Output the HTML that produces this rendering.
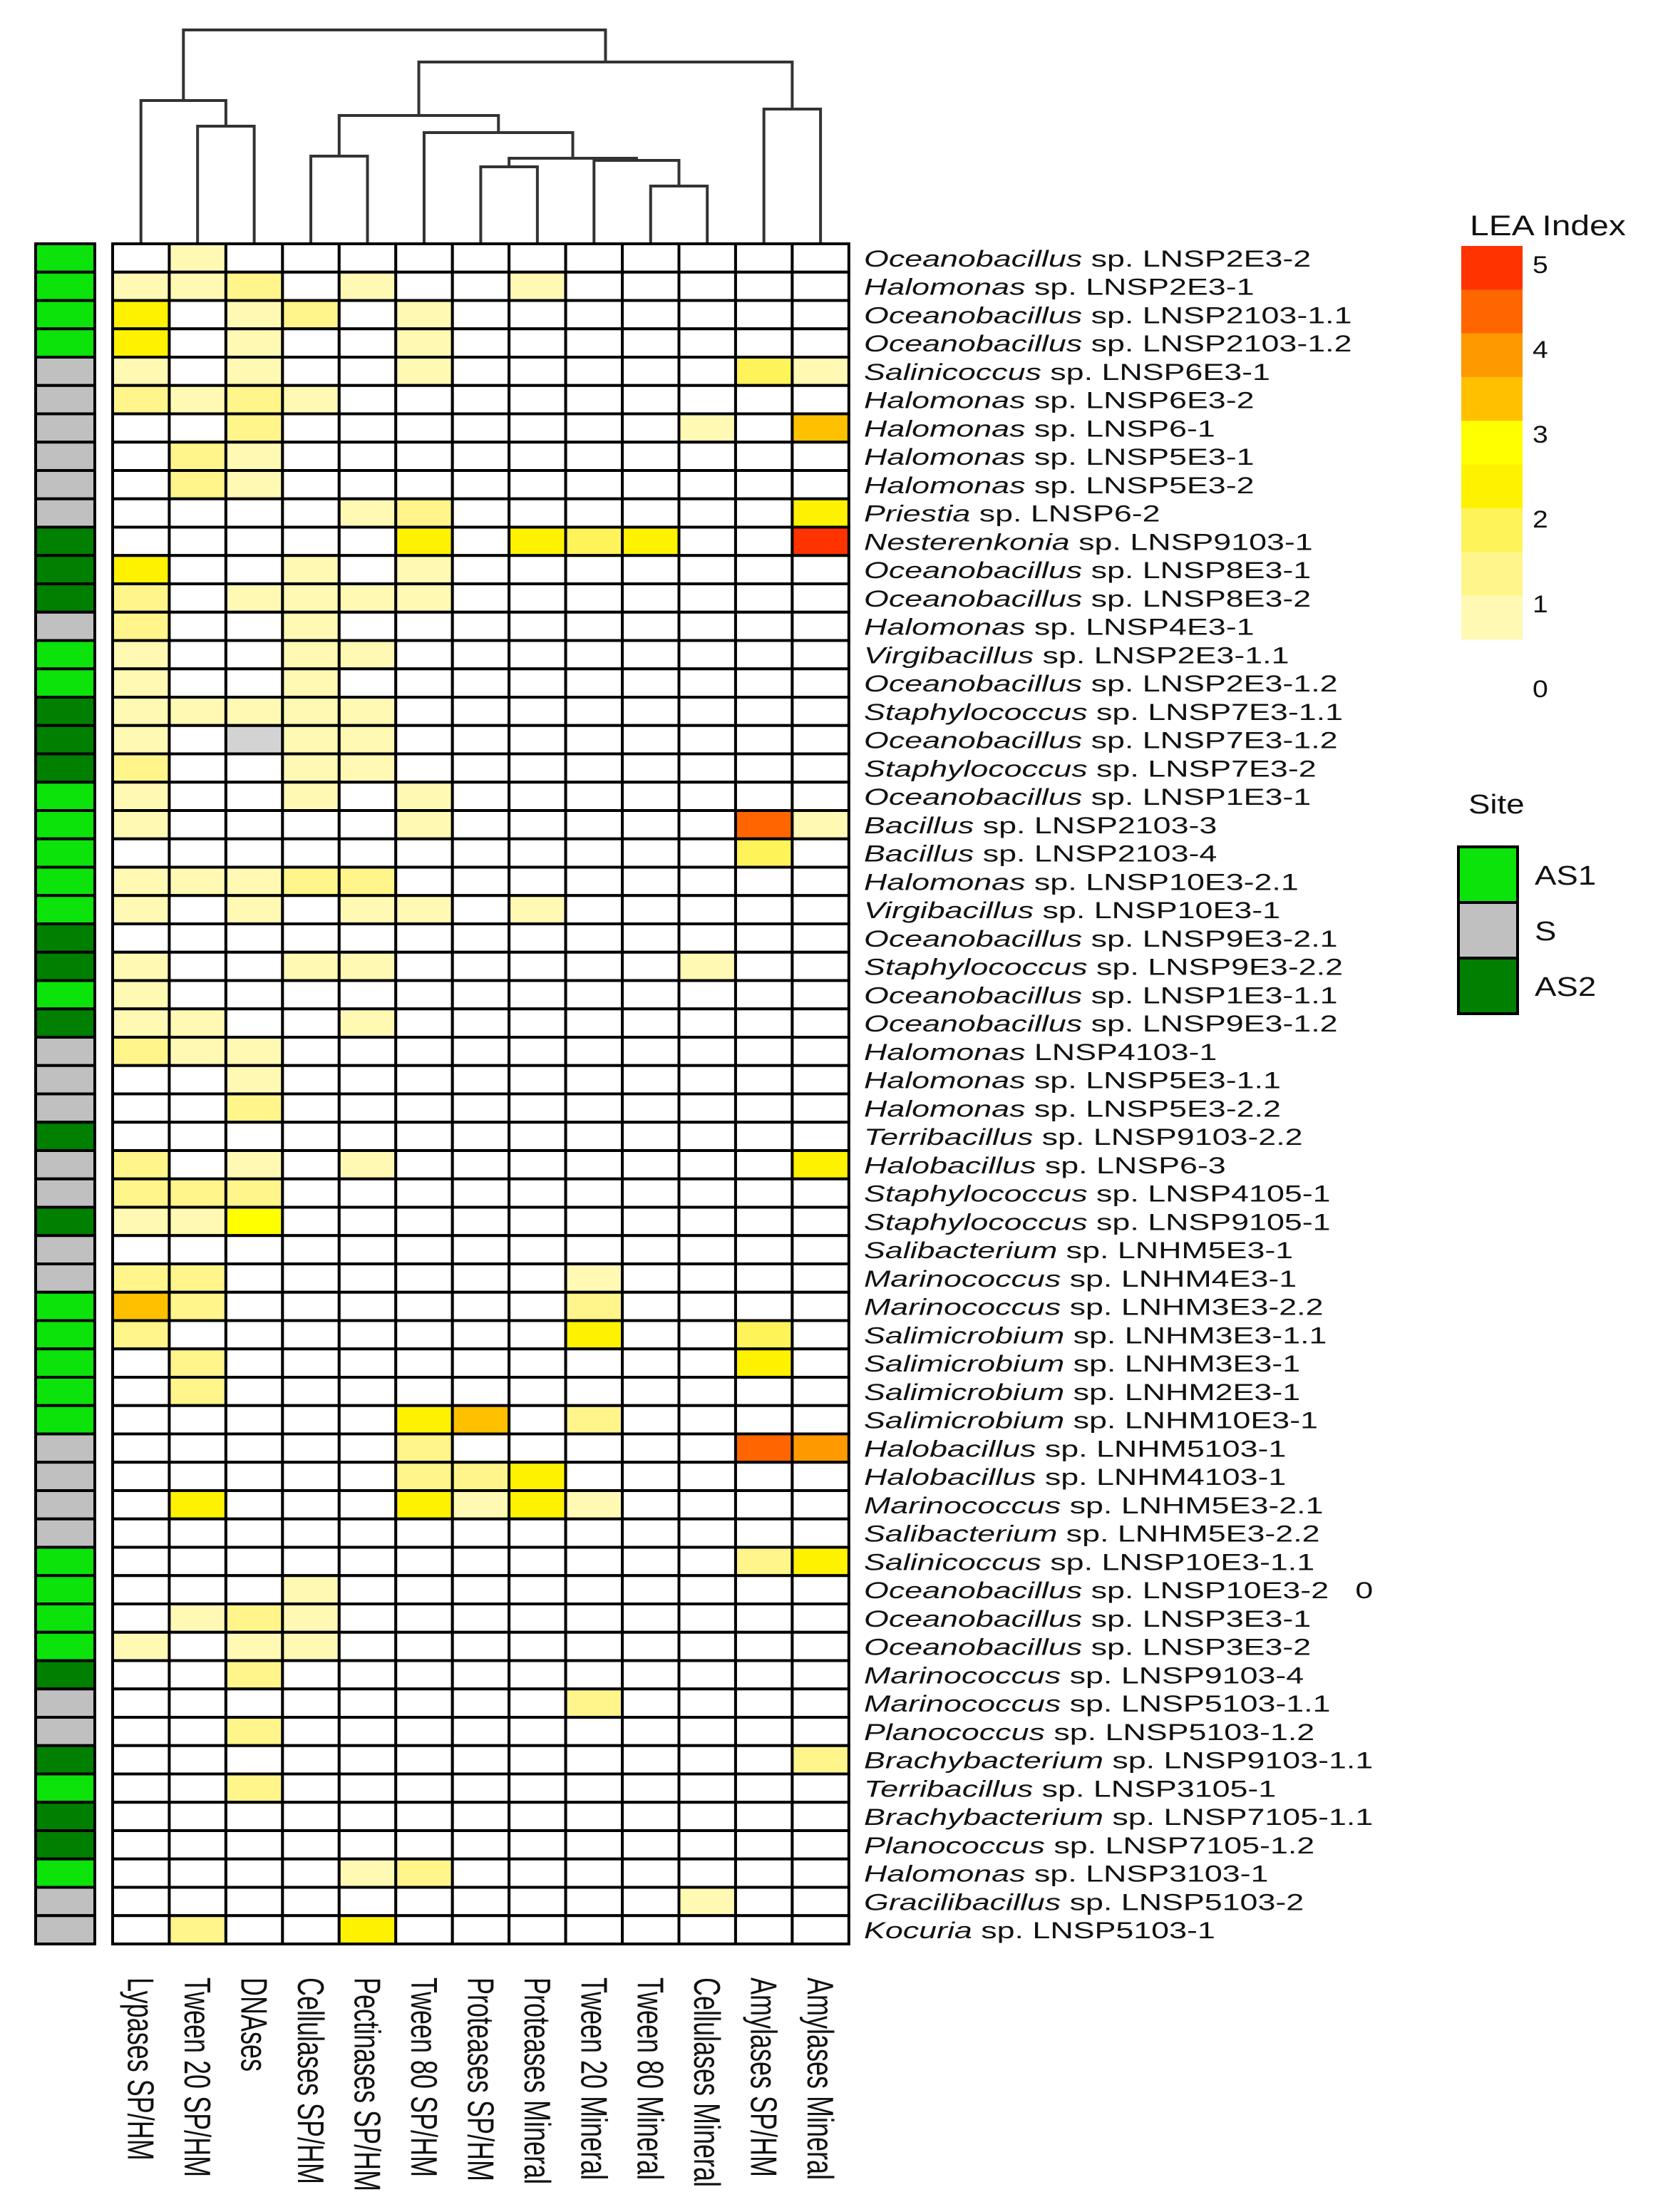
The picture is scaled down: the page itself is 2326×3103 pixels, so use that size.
<!DOCTYPE html>
<html><head><meta charset="utf-8"><title>LEA Index heatmap</title>
<style>html,body{margin:0;padding:0;background:#fff}svg{display:block}text{font-family:"Liberation Sans",Arial,sans-serif;fill:#111}</style>
</head><body>
<svg id="chart" xmlns="http://www.w3.org/2000/svg" width="2326" height="3103" viewBox="0 0 2326 3103">
<g id="dendro"></g>
<g id="sitebar"></g>
<g id="cells"></g>
<g id="rowlabels"></g>
<g id="collabels"></g>
<g id="legend"></g>
<g id="siteLegend"></g>
</svg>
<script>
const columns = ["Lypases SP/HM","Tween 20 SP/HM","DNAses","Cellulases SP/HM","Pectinases SP/HM","Tween 80 SP/HM","Proteases SP/HM","Proteases Mineral","Tween 20 Mineral","Tween 80 Mineral","Cellulases Mineral","Amylases SP/HM","Amylases Mineral"];
const rows = ["Oceanobacillus sp. LNSP2E3-2","Halomonas sp. LNSP2E3-1","Oceanobacillus sp. LNSP2103-1.1","Oceanobacillus sp. LNSP2103-1.2","Salinicoccus sp. LNSP6E3-1","Halomonas sp. LNSP6E3-2","Halomonas sp. LNSP6-1","Halomonas sp. LNSP5E3-1","Halomonas sp. LNSP5E3-2","Priestia sp. LNSP6-2","Nesterenkonia sp. LNSP9103-1","Oceanobacillus sp. LNSP8E3-1","Oceanobacillus sp. LNSP8E3-2","Halomonas sp. LNSP4E3-1","Virgibacillus sp. LNSP2E3-1.1","Oceanobacillus sp. LNSP2E3-1.2","Staphylococcus sp. LNSP7E3-1.1","Oceanobacillus sp. LNSP7E3-1.2","Staphylococcus sp. LNSP7E3-2","Oceanobacillus sp. LNSP1E3-1","Bacillus sp. LNSP2103-3","Bacillus sp. LNSP2103-4","Halomonas sp. LNSP10E3-2.1","Virgibacillus sp. LNSP10E3-1","Oceanobacillus sp. LNSP9E3-2.1","Staphylococcus sp. LNSP9E3-2.2","Oceanobacillus sp. LNSP1E3-1.1","Oceanobacillus sp. LNSP9E3-1.2","Halomonas LNSP4103-1","Halomonas sp. LNSP5E3-1.1","Halomonas sp. LNSP5E3-2.2","Terribacillus sp. LNSP9103-2.2","Halobacillus sp. LNSP6-3","Staphylococcus sp. LNSP4105-1","Staphylococcus sp. LNSP9105-1","Salibacterium sp. LNHM5E3-1","Marinococcus sp. LNHM4E3-1","Marinococcus sp. LNHM3E3-2.2","Salimicrobium sp. LNHM3E3-1.1","Salimicrobium sp. LNHM3E3-1","Salimicrobium sp. LNHM2E3-1","Salimicrobium sp. LNHM10E3-1","Halobacillus sp. LNHM5103-1","Halobacillus sp. LNHM4103-1","Marinococcus sp. LNHM5E3-2.1","Salibacterium sp. LNHM5E3-2.2","Salinicoccus sp. LNSP10E3-1.1","Oceanobacillus sp. LNSP10E3-2  0","Oceanobacillus sp. LNSP3E3-1","Oceanobacillus sp. LNSP3E3-2","Marinococcus sp. LNSP9103-4","Marinococcus sp. LNSP5103-1.1","Planococcus sp. LNSP5103-1.2","Brachybacterium sp. LNSP9103-1.1","Terribacillus sp. LNSP3105-1","Brachybacterium sp. LNSP7105-1.1","Planococcus sp. LNSP7105-1.2","Halomonas sp. LNSP3103-1","Gracilibacillus sp. LNSP5103-2","Kocuria sp. LNSP5103-1"];
const sites = ["AS1","AS1","AS1","AS1","S","S","S","S","S","S","AS2","AS2","AS2","S","AS1","AS1","AS2","AS2","AS2","AS1","AS1","AS1","AS1","AS1","AS2","AS2","AS1","AS2","S","S","S","AS2","S","S","AS2","S","S","AS1","AS1","AS1","AS1","AS1","S","S","S","S","AS1","AS1","AS1","AS1","AS2","S","S","AS2","AS1","AS2","AS2","AS1","S","S"];
const values = [
[0,1,0,0,0,0,0,0,0,0,0,0,0],
[1,1,1.5,0,1,0,0,1,0,0,0,0,0],
[2.5,0,1,1.5,0,1,0,0,0,0,0,0,0],
[2.5,0,1,0,0,1,0,0,0,0,0,0,0],
[1,0,1,0,0,1,0,0,0,0,0,2,1],
[1.5,1,1.5,1,0,0,0,0,0,0,0,0,0],
[0,0,1.5,0,0,0,0,0,0,0,1,0,3.5],
[0,1.5,1,0,0,0,0,0,0,0,0,0,0],
[0,1.5,1,0,0,0,0,0,0,0,0,0,0],
[0,0,0,0,1,1.5,0,0,0,0,0,0,2.5],
[0,0,0,0,0,2.5,0,2.5,2,2.5,0,0,5],
[2.5,0,0,1,0,1,0,0,0,0,0,0,0],
[1.5,0,1,1,1,1,0,0,0,0,0,0,0],
[1.5,0,0,1,0,0,0,0,0,0,0,0,0],
[1,0,0,1,1,0,0,0,0,0,0,0,0],
[1,0,0,1,0,0,0,0,0,0,0,0,0],
[1,1,1,1,1,0,0,0,0,0,0,0,0],
[1,0,-1,1,1,0,0,0,0,0,0,0,0],
[1.5,0,0,1,1,0,0,0,0,0,0,0,0],
[1,0,0,1,0,1,0,0,0,0,0,0,0],
[1,0,0,0,0,1,0,0,0,0,0,4.5,1],
[0,0,0,0,0,0,0,0,0,0,0,2,0],
[1,1,1,1.5,1.5,0,0,0,0,0,0,0,0],
[1,0,1,0,1,1,0,1,0,0,0,0,0],
[0,0,0,0,0,0,0,0,0,0,0,0,0],
[1,0,0,1,1,0,0,0,0,0,1,0,0],
[1,0,0,0,0,0,0,0,0,0,0,0,0],
[1,1,0,0,1,0,0,0,0,0,0,0,0],
[1.5,1,1,0,0,0,0,0,0,0,0,0,0],
[0,0,1,0,0,0,0,0,0,0,0,0,0],
[0,0,1.5,0,0,0,0,0,0,0,0,0,0],
[0,0,0,0,0,0,0,0,0,0,0,0,0],
[1.5,0,1,0,1,0,0,0,0,0,0,0,2.5],
[1.5,1.5,1.5,0,0,0,0,0,0,0,0,0,0],
[1,1,3,0,0,0,0,0,0,0,0,0,0],
[0,0,0,0,0,0,0,0,0,0,0,0,0],
[1.5,1.5,0,0,0,0,0,0,1,0,0,0,0],
[3.5,1.5,0,0,0,0,0,0,1.5,0,0,0,0],
[1.5,0,0,0,0,0,0,0,2.5,0,0,2,0],
[0,1.5,0,0,0,0,0,0,0,0,0,2.5,0],
[0,1.5,0,0,0,0,0,0,0,0,0,0,0],
[0,0,0,0,0,2.5,3.5,0,1.5,0,0,0,0],
[0,0,0,0,0,1.5,0,0,0,0,0,4.5,4],
[0,0,0,0,0,1.5,1.5,2.5,0,0,0,0,0],
[0,2.5,0,0,0,2.5,1,2.5,1,0,0,0,0],
[0,0,0,0,0,0,0,0,0,0,0,0,0],
[0,0,0,0,0,0,0,0,0,0,0,1.5,2.5],
[0,0,0,1,0,0,0,0,0,0,0,0,0],
[0,1,1.5,1,0,0,0,0,0,0,0,0,0],
[1,0,1,1,0,0,0,0,0,0,0,0,0],
[0,0,1.5,0,0,0,0,0,0,0,0,0,0],
[0,0,0,0,0,0,0,0,1.5,0,0,0,0],
[0,0,1.5,0,0,0,0,0,0,0,0,0,0],
[0,0,0,0,0,0,0,0,0,0,0,0,1.5],
[0,0,1.5,0,0,0,0,0,0,0,0,0,0],
[0,0,0,0,0,0,0,0,0,0,0,0,0],
[0,0,0,0,0,0,0,0,0,0,0,0,0],
[0,0,0,0,1,1.5,0,0,0,0,0,0,0],
[0,0,0,0,0,0,0,0,0,0,1,0,0],
[0,1.5,0,0,2.5,0,0,0,0,0,0,0,0]
];
const legendTicks = [5,4,3,2,1,0];
const legendBands = [5,4.5,4,3.5,3,2.5,2,1.5,1];
const siteCats = ["AS1","S","AS2"];
const merges = [[1,2,0.55],[0,13,0.67],[3,4,0.41],[6,7,0.36],[9,10,0.27],[8,17,0.39],[16,18,0.40],[5,19,0.52],[15,20,0.60],[11,12,0.63],[21,22,0.85],[14,23,1.0]];

const NS="http://www.w3.org/2000/svg";
const X0=158, CW=79.45, Y0=342, RH=39.75;
const DTOP=42, DBOT=342;
const colX=i=>X0+CW*(i+0.5);
const rowY=r=>Y0+RH*r;
const hY=h=>DBOT-(DBOT-DTOP)*h;
const siteColor={AS1:"#0be30b",S:"#c0c0c0",AS2:"#007f00"};
function heatColor(v){
  if(v<0) return "#d3d3d3";
  if(v<=0) return "#ffffff";
  const r=Math.round(v*2)/2;
  const m={0.5:"#fffde0",1:"#fff9b4",1.5:"#fff58a",2:"#fff35a",2.5:"#fff200",3:"#ffff00",3.5:"#ffc000",4:"#ff9900",4.5:"#ff6600",5:"#ff3300"};
  return m[Math.min(5,Math.max(0.5,r))];
}
function mk(tag,attrs,parent){const e=document.createElementNS(NS,tag);for(const k in attrs)e.setAttribute(k,attrs[k]);parent.appendChild(e);return e;}

const dg=document.getElementById('dendro');
const nodeX=[],nodeY=[];
for(let i=0;i<columns.length;i++){nodeX[i]=colX(i);nodeY[i]=DBOT;}
merges.forEach((m,k)=>{
  const id=columns.length+k, y=hY(m[2]);
  const a=m[0], b=m[1];
  const l1=mk('line',{x1:nodeX[a],y1:y,x2:nodeX[b],y2:y,stroke:"#333","stroke-width":4},dg);
  
  
  const l2=mk('line',{x1:nodeX[a],y1:y-2,x2:nodeX[a],y2:nodeY[a],stroke:"#333","stroke-width":4},dg);
  
  
  const l3=mk('line',{x1:nodeX[b],y1:y-2,x2:nodeX[b],y2:nodeY[b],stroke:"#333","stroke-width":4},dg);
  
  
  nodeX[id]=(nodeX[a]+nodeX[b])/2; nodeY[id]=y;
});

const sg=document.getElementById('sitebar'), cg=document.getElementById('cells'), rl=document.getElementById('rowlabels');
rows.forEach((name,r)=>{
  const s=mk('rect',{x:50,y:rowY(r),width:83,height:RH,fill:siteColor[sites[r]],stroke:"#000","stroke-width":4},sg);
  
  
  values[r].forEach((v,c)=>{
    const e=mk('rect',{x:X0+CW*c,y:rowY(r),width:CW,height:RH,fill:heatColor(v),stroke:"#000","stroke-width":4},cg);
    
    
  });
  const t=mk('text',{x:0,y:0,"font-size":32,transform:`translate(1212,${rowY(r)+RH/2+12}) scale(1.4,1)`},rl);
  
  
  const sp=name.indexOf(' ');
  const g=mk('tspan',{"font-style":"italic"},t); g.textContent=name.slice(0,sp);
  const rest=mk('tspan',{},t); rest.textContent=name.slice(sp).replace('  0','\u00a0\u00a0 0');
});

const clg=document.getElementById('collabels');
columns.forEach((name,c)=>{
  const t=mk('text',{x:0,y:0,"font-size":36,"dominant-baseline":"central",transform:`translate(${colX(c)},2774) scale(1.45,1) rotate(90)`},clg);
  
  
  t.textContent=name;
});

const lg=document.getElementById('legend');
const lt=mk('text',{x:0,y:0,"font-size":40,transform:"translate(2062,330) scale(1.2,1)"},lg);


lt.textContent="LEA Index";
const bandH=61.3;
legendBands.forEach((v,i)=>{
  const b=mk('rect',{x:2050,y:345+bandH*i,width:86,height:bandH+0.5,fill:heatColor(v)},lg);
  
  
});
legendTicks.forEach(v=>{
  const t=mk('text',{x:0,y:0,"font-size":34,transform:`translate(2150,${966-119*v+12}) scale(1.15,1)`},lg);
  
  
  t.textContent=String(v);
});

const sl=document.getElementById('siteLegend');
const st=mk('text',{x:0,y:0,"font-size":38,transform:"translate(2060,1141) scale(1.2,1)"},sl);


st.textContent="Site";
siteCats.forEach((s,i)=>{
  const r=mk('rect',{x:2046,y:1188+78*i,width:83,height:78,fill:siteColor[s],stroke:"#000","stroke-width":4},sl);
  
  
  const t=mk('text',{x:0,y:0,"font-size":38,transform:`translate(2153,${1188+78*i+53}) scale(1.2,1)`},sl);
  
  
  t.textContent=s;
});
</script>
</body></html>
